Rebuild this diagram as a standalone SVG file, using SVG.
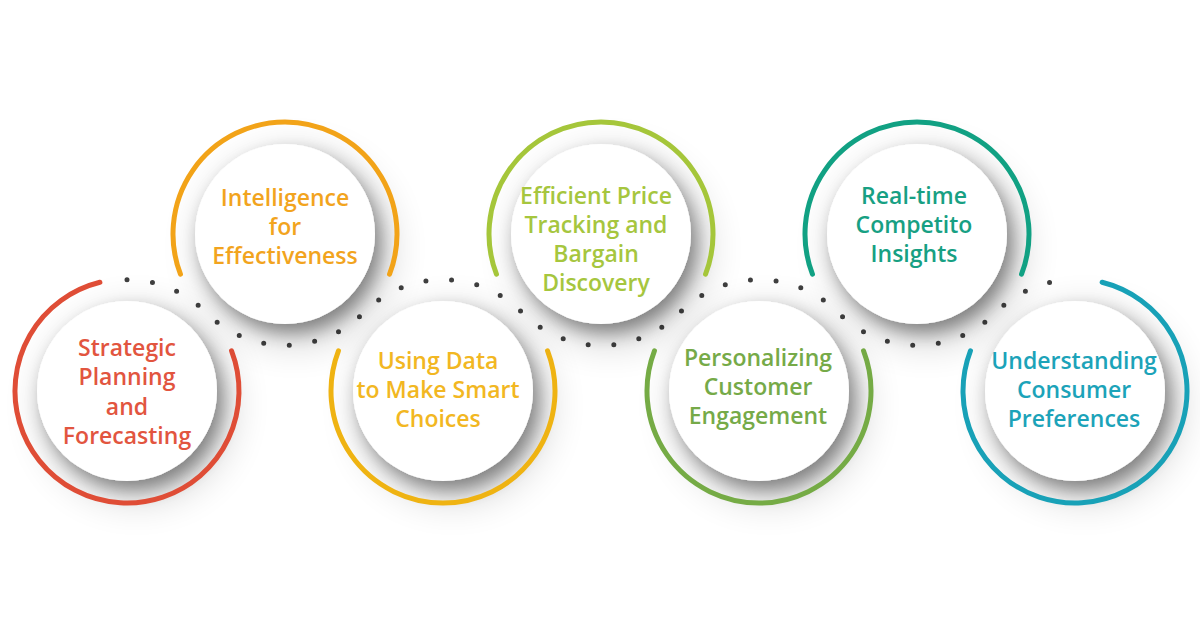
<svg xmlns="http://www.w3.org/2000/svg" width="1200" height="628" viewBox="0 0 1200 628">
  <style>
    .lbl { font-family: "Open Sans", "Liberation Sans", sans-serif; font-size: 23px; font-weight: 600; text-anchor: middle; }
    .ring { fill: none; stroke-width: 5; stroke-linecap: round; }
    .disc { fill: #ffffff; filter: url(#sh); }
    .dots { fill: none; stroke: #3f3f3f; stroke-width: 5; stroke-linecap: round; stroke-dasharray: 0 1; }
  </style>
  <defs>
    <filter id="sh" x="-40%" y="-40%" width="180%" height="180%">
      <feGaussianBlur in="SourceAlpha" stdDeviation="9" result="b1"/>
      <feOffset in="b1" dx="6" dy="9" result="o1"/>
      <feComponentTransfer in="o1" result="s1"><feFuncA type="linear" slope="0.38"/></feComponentTransfer>
      <feGaussianBlur in="SourceAlpha" stdDeviation="22" result="b2"/>
      <feOffset in="b2" dx="10" dy="14" result="o2"/>
      <feComponentTransfer in="o2" result="s2"><feFuncA type="linear" slope="0.24"/></feComponentTransfer>
      <feMerge><feMergeNode in="s2"/><feMergeNode in="s1"/><feMergeNode in="SourceGraphic"/></feMerge>
    </filter>
  </defs>
  <rect width="1200" height="628" fill="#ffffff"/>

  <g id="connectors">
    <path class="dots" pathLength="41" d="M127,279.63 A111.37 111.37 0 0 1 206,312.5 A111.37 111.37 0 0 0 364,312.5 A111.37 111.37 0 0 1 522,312.5 A111.37 111.37 0 0 0 680,312.5 A111.37 111.37 0 0 1 838,312.5 A111.37 111.37 0 0 0 996,312.5 A111.37 111.37 0 0 1 1075,279.63"/>
  </g>

  <g id="node-strategic">
    <circle class="disc" cx="127" cy="391" r="90"/>
    <path class="ring" stroke="#df4d36" d="M231.56,350.86 A112 112 0 1 1 99.9,282.3"/>
    <text class="lbl" fill="#e2553f"><tspan x="127" y="356">Strategic</tspan><tspan x="127" y="385">Planning</tspan><tspan x="127" y="415">and</tspan><tspan x="127" y="444">Forecasting</tspan></text>
  </g>

  <g id="node-intelligence">
    <circle class="disc" cx="285" cy="234" r="90"/>
    <path class="ring" stroke="#f2a318" d="M180.44,274.14 A112 112 0 1 1 389.56,274.14"/>
    <text class="lbl" fill="#f2a41e"><tspan x="285" y="206">Intelligence</tspan><tspan x="285" y="235">for</tspan><tspan x="285" y="264">Effectiveness</tspan></text>
  </g>

  <g id="node-usingdata">
    <circle class="disc" cx="443" cy="391" r="90"/>
    <path class="ring" stroke="#efb312" d="M547.56,350.86 A112 112 0 1 1 338.44,350.86"/>
    <text class="lbl" fill="#f2b722"><tspan x="438" y="369">Using Data</tspan><tspan x="438" y="398">to Make Smart</tspan><tspan x="438" y="427">Choices</tspan></text>
  </g>

  <g id="node-pricetracking">
    <circle class="disc" cx="601" cy="234" r="90"/>
    <path class="ring" stroke="#a5c63a" d="M496.44,274.14 A112 112 0 1 1 705.56,274.14"/>
    <text class="lbl" fill="#a6c63e"><tspan x="596" y="204">Efficient Price</tspan><tspan x="596" y="233">Tracking and</tspan><tspan x="596" y="262">Bargain</tspan><tspan x="596" y="291">Discovery</tspan></text>
  </g>

  <g id="node-personalizing">
    <circle class="disc" cx="759" cy="391" r="90"/>
    <path class="ring" stroke="#75ab45" d="M863.56,350.86 A112 112 0 1 1 654.44,350.86"/>
    <text class="lbl" fill="#76aa48"><tspan x="758" y="366">Personalizing</tspan><tspan x="758" y="395">Customer</tspan><tspan x="758" y="424">Engagement</tspan></text>
  </g>

  <g id="node-realtime">
    <circle class="disc" cx="917" cy="234" r="90"/>
    <path class="ring" stroke="#11a183" d="M812.44,274.14 A112 112 0 1 1 1021.56,274.14"/>
    <text class="lbl" fill="#17a083"><tspan x="914" y="204">Real-time</tspan><tspan x="914" y="233">Competito</tspan><tspan x="914" y="262">Insights</tspan></text>
  </g>

  <g id="node-understanding">
    <circle class="disc" cx="1075" cy="391" r="90"/>
    <path class="ring" stroke="#18a1b7" d="M1102.1,282.3 A112 112 0 1 1 970.44,350.86"/>
    <text class="lbl" fill="#1ca3b9"><tspan x="1074" y="369">Understanding</tspan><tspan x="1074" y="398">Consumer</tspan><tspan x="1074" y="427">Preferences</tspan></text>
  </g>
</svg>
